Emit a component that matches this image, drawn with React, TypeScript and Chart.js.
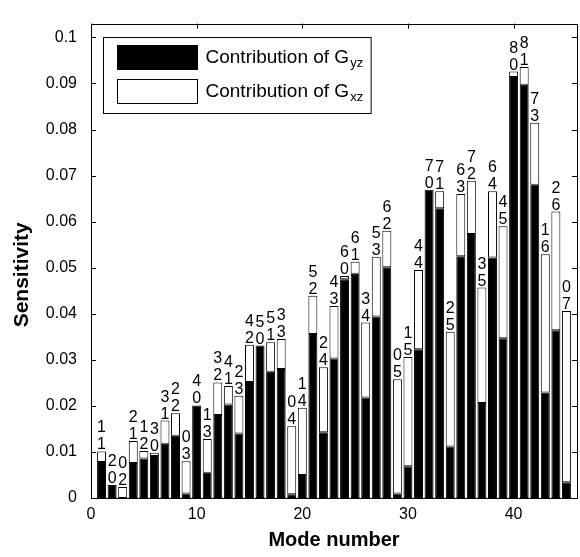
import { useEffect, useRef } from 'react';
import { Chart, registerables } from 'chart.js';

Chart.register(...registerables);

const modes = [
  1, 2, 3, 4, 5, 6, 7, 8, 9, 10, 11, 12, 13, 14, 15, 16, 17, 18, 19, 20, 21, 22, 23,
  24, 25, 26, 27, 28, 29, 30, 31, 32, 33, 34, 35, 36, 37, 38, 39, 40, 41, 42, 43, 44, 45,
];

// Contribution of G_yz (black part)
const gyz = [
  0.0078, 0.0028, 0.0, 0.0076, 0.0086, 0.0091, 0.0118, 0.0135, 0.001, 0.0201,
  0.0055, 0.018, 0.0203, 0.014, 0.0252, 0.0331, 0.0274, 0.028, 0.0008, 0.005,
  0.0356, 0.0143, 0.0303, 0.0475, 0.0487, 0.0218, 0.0394, 0.0501, 0.001, 0.0069,
  0.0323, 0.0669, 0.0629, 0.0112, 0.0525, 0.0573, 0.0206, 0.0522, 0.0347, 0.0914,
  0.0897, 0.068, 0.0229, 0.0364, 0.0034,
];

// Contribution of G_xz (white part, stacked on top)
const gxz = [
  0.0023, 0.0, 0.0024, 0.0048, 0.0016, 0.0007, 0.005, 0.0049, 0.007, 0.0,
  0.0073, 0.0071, 0.004, 0.0082, 0.0081, 0.0, 0.0064, 0.0065, 0.0148, 0.0146,
  0.0083, 0.0141, 0.0114, 0.0007, 0.0026, 0.0163, 0.013, 0.0079, 0.0248, 0.0237,
  0.0172, 0.0, 0.0037, 0.0249, 0.0135, 0.0116, 0.0251, 0.0144, 0.0243, 0.0012,
  0.0039, 0.0135, 0.03, 0.0258, 0.0372,
];

// mode index labels written above each bar (upper digit, lower digit)
const labelTop = [
  '1', '2', '0', '2', '1', '3', '3', '2', '0', '4',
  '1', '3', '4', '2', '4', '5', '5', '3', '0', '1',
  '5', '2', '4', '6', '6', '3', '5', '6', '0', '1',
  '4', '7', '7', '2', '6', '7', '3', '6', '4', '8',
  '8', '7', '1', '2', '0',
];
const labelBottom = [
  '1', '0', '2', '1', '2', '0', '1', '2', '3', '0',
  '3', '2', '1', '3', '2', '0', '1', '3', '4', '4',
  '2', '4', '3', '0', '1', '4', '3', '2', '5', '5',
  '4', '0', '1', '5', '3', '2', '5', '4', '5', '0',
  '1', '3', '6', '6', '7',
];

const legendMain = ['Contribution of G', 'Contribution of G'];
const legendSub = ['yz', 'xz'];
const yTitle = 'Sensitivity';

const FONT = '"Liberation Sans", Arial, Helvetica, sans-serif';

const boxPlugin = {
  id: 'boxAndLabels',
  afterDatasetsDraw(chart: any) {
    const { ctx, scales } = chart;
    const xs = scales.x;
    const ys = scales.y;
    ctx.save();
    ctx.fillStyle = '#000';
    ctx.font = `16px ${FONT}`;
    ctx.textAlign = 'center';
    ctx.textBaseline = 'alphabetic';
    for (let i = 0; i < modes.length; i++) {
      const px = xs.getPixelForValue(modes[i]);
      const py = ys.getPixelForValue(gyz[i] + gxz[i]);
      ctx.fillText(labelBottom[i], px, py - 2);
      ctx.fillText(labelTop[i], px, py - 2 - 17);
    }
    ctx.restore();
  },
  afterDraw(chart: any) {
    const { ctx, chartArea, scales } = chart;
    const { left, right, top, bottom } = chartArea;
    const xs = scales.x;
    const ys = scales.y;
    ctx.save();
    ctx.strokeStyle = '#000';
    ctx.lineWidth = 1;
    ctx.beginPath();
    for (const t of xs.ticks) {
      const px = Math.round(xs.getPixelForValue(t.value)) + 0.5;
      ctx.moveTo(px, bottom);
      ctx.lineTo(px, bottom - 5);
      ctx.moveTo(px, top);
      ctx.lineTo(px, top + 5);
    }
    for (const t of ys.ticks) {
      const py = Math.round(ys.getPixelForValue(t.value)) + 0.5;
      ctx.moveTo(left, py);
      ctx.lineTo(left + 5, py);
      ctx.moveTo(right, py);
      ctx.lineTo(right - 5, py);
    }
    ctx.stroke();
    ctx.strokeRect(Math.round(left) + 0.5, Math.round(top) + 0.5, Math.round(right - left), Math.round(bottom - top));

    // y axis title
    ctx.save();
    ctx.translate(22, (top + bottom) / 2 + 14);
    ctx.rotate(-Math.PI / 2);
    ctx.font = `bold 21px ${FONT}`;
    ctx.fillStyle = '#000';
    ctx.textAlign = 'center';
    ctx.textBaseline = 'middle';
    ctx.fillText(yTitle, 0, 0);
    ctx.restore();

    // legend
    const lx = Math.round(left) + 12.5;
    const ly = Math.round(top) + 13.5;
    const mainFont = `19px ${FONT}`;
    const subFont = `13px ${FONT}`;
    ctx.font = mainFont;
    const mainW = ctx.measureText(legendMain[0]).width;
    ctx.font = subFont;
    const subW = Math.max(ctx.measureText(legendSub[0]).width, ctx.measureText(legendSub[1]).width);
    const textX = lx + 102;
    const boxW = textX + mainW + 1 + subW + 8 - lx;
    ctx.fillStyle = '#fff';
    ctx.fillRect(lx, ly, boxW, 76);
    ctx.strokeRect(lx, ly, boxW, 76);
    const fills = ['#000', '#fff'];
    for (const r of [0, 1]) {
      const sy = ly + 8 + r * 34;
      ctx.fillStyle = fills[r];
      ctx.fillRect(lx + 14, sy, 80, 24);
      ctx.strokeRect(lx + 14, sy, 80, 24);
      ctx.fillStyle = '#000';
      ctx.textAlign = 'left';
      ctx.textBaseline = 'middle';
      ctx.font = mainFont;
      ctx.fillText(legendMain[r], textX, sy + 12);
      ctx.font = subFont;
      ctx.fillText(legendSub[r], textX + mainW + 1, sy + 18);
    }
    ctx.restore();
  },
};

export default function App() {
  const ref = useRef<HTMLCanvasElement>(null);
  useEffect(() => {
    document.body.style.margin = '0';
    const canvas = ref.current;
    if (!canvas) return;
    Chart.defaults.font.family = FONT;
    const chart = new Chart(canvas, {
      type: 'bar',
      data: {
        datasets: [
          {
            label: 'Contribution of Gyz',
            data: modes.map((m, i) => ({ x: m, y: [0, gyz[i]] })) as any,
            backgroundColor: '#000',
            borderColor: '#000',
            borderWidth: 1,
            borderSkipped: false,
            grouped: false,
            barPercentage: 0.85,
            categoryPercentage: 1,
          },
          {
            label: 'Contribution of Gxz',
            data: modes.map((m, i) => ({ x: m, y: [gyz[i], gyz[i] + gxz[i]] })) as any,
            backgroundColor: '#fff',
            borderColor: '#000',
            borderWidth: 1,
            borderSkipped: false,
            grouped: false,
            barPercentage: 0.85,
            categoryPercentage: 1,
          },
        ],
      },
      options: {
        animation: false,
        responsive: false,
        devicePixelRatio: 1,
        layout: { padding: { top: 9, right: 3, left: 0, bottom: 0 } },
        plugins: { legend: { display: false }, tooltip: { enabled: false } },
        scales: {
          x: {
            type: 'linear',
            min: 0,
            max: 46,
            offset: false,
            grid: { display: false, drawTicks: false },
            border: { display: false },
            ticks: {
              stepSize: 10,
              includeBounds: false,
              padding: 7,
              color: '#000',
              font: { size: 16 },
              maxRotation: 0,
              autoSkip: false,
              callback: (v: any) => String(v),
            },
            title: {
              display: true,
              text: 'Mode number',
              color: '#000',
              font: { size: 20, weight: 'bold', lineHeight: 1.2 },
              padding: { top: 0, bottom: 5 },
            },
            afterFit: (s: any) => {
              s.height = 59;
            },
          },
          y: {
            type: 'linear',
            min: 0,
            max: 0.103,
            grid: { display: false, drawTicks: false },
            border: { display: false },
            ticks: {
              stepSize: 0.01,
              includeBounds: false,
              padding: 14,
              color: '#000',
              font: { size: 16 },
              autoSkip: false,
              callback: (v: any) => String(Number(Number(v).toFixed(2))),
            },
            title: { display: false },
            afterFit: (s: any) => {
              s.width = 91;
            },
          },
        },
      } as any,
      plugins: [boxPlugin],
    });
    return () => chart.destroy();
  }, []);
  return (
    <div style={{ width: 580, height: 557 }}>
      <canvas ref={ref} width={580} height={557} style={{ display: 'block' }} />
    </div>
  );
}
